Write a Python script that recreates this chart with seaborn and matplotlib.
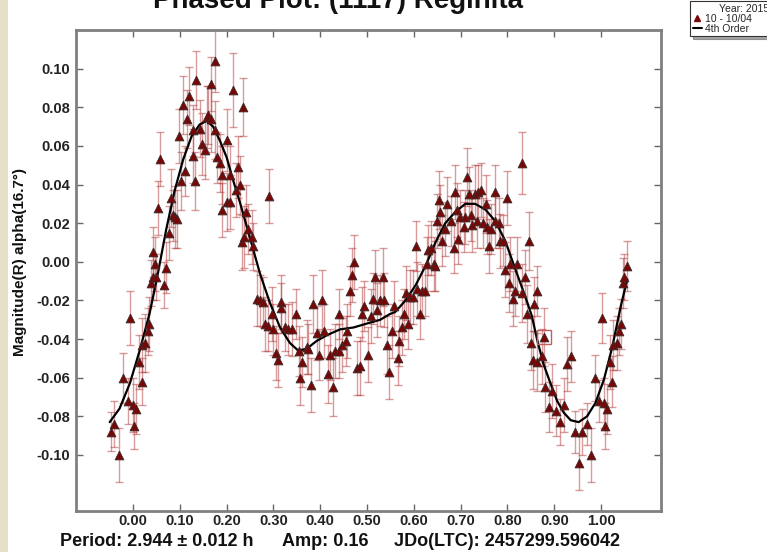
import numpy as np
import pandas as pd
import matplotlib
matplotlib.use("Agg")
import matplotlib.pyplot as plt
import seaborn as sns
from matplotlib.lines import Line2D
from matplotlib.patches import Rectangle

# ---------------- data ----------------
phase = [
    -0.047, -0.040, -0.030, -0.022, -0.007, -0.011, 0.000, 0.002, 0.007, 0.012,
    0.018, 0.019, 0.026, 0.032, 0.035, 0.039, 0.042, 0.046, 0.042, 0.050,
    0.053, 0.057, 0.067, 0.071, 0.076, 0.080, 0.085, 0.089, 0.094, 0.098,
    0.103, 0.107, 0.110, 0.115, 0.119, 0.127, 0.128, 0.133, 0.135, 0.142,
    0.148, 0.153, 0.157, 0.160, 0.166, 0.167, 0.175, 0.175, 0.179, 0.185,
    0.189, 0.191, 0.200, 0.200, 0.207, 0.208, 0.214, 0.219, 0.224, 0.228,
    0.232, 0.235, 0.237, 0.242, 0.246, 0.253, 0.257, 0.291,
    0.264, 0.271, 0.278, 0.282, 0.289, 0.296, 0.299, 0.305, 0.310, 0.315,
    0.317, 0.324, 0.331, 0.339, 0.348, 0.355, 0.356, 0.360, 0.371, 0.374,
    0.380, 0.385, 0.392, 0.397, 0.403, 0.408, 0.417, 0.421, 0.428, 0.431,
    0.439, 0.441, 0.446, 0.455, 0.457, 0.464, 0.467, 0.472, 0.478, 0.485,
    0.489, 0.494, 0.501, 0.509, 0.512, 0.517, 0.522, 0.528, 0.534, 0.536,
    0.542, 0.546, 0.553, 0.558, 0.566, 0.568, 0.574, 0.578, 0.583, 0.588,
    0.592, 0.599, 0.604, 0.606, 0.613, 0.617, 0.623, 0.628, 0.631, 0.637,
    0.642, 0.646, 0.649, 0.654, 0.656, 0.660, 0.666, 0.671, 0.680, 0.685,
    0.687, 0.692, 0.695, 0.699, 0.706, 0.710, 0.713, 0.717, 0.723, 0.725,
    0.731, 0.735, 0.738, 0.744, 0.747, 0.753, 0.756, 0.761, 0.765, 0.773,
    0.774, 0.781, 0.785, 0.790, 0.794, 0.799, 0.803, 0.806, 0.812, 0.817,
    0.821, 0.830, 0.831, 0.838, 0.842, 0.845, 0.851, 0.854,
    0.856, 0.863, 0.863, 0.874, 0.879, 0.881, 0.888, 0.895, 0.904, 0.913,
    0.920, 0.927, 0.936, 0.944, 0.952, 0.960, 0.969, 0.978, 0.986, 0.995,
    1.001, 1.006, 1.009, 1.013, 1.018, 1.024, 1.026, 1.033, 1.038, 1.042,
    1.047, 1.050, 1.055,
]
mag = [
    -0.088, -0.084, -0.100, -0.060, -0.029, -0.072, -0.074, -0.085, -0.076, -0.052,
    -0.062, -0.043, -0.042, -0.036, -0.032, -0.011, -0.008, -0.001, 0.005, -0.008,
    0.028, 0.053, -0.012, -0.003, 0.015, 0.033, 0.024, 0.023, 0.022, 0.065,
    0.042, 0.081, 0.047, 0.074, 0.086, 0.055, 0.068, 0.042, 0.094, 0.069,
    0.061, 0.058, 0.075, 0.076, 0.074, 0.092, 0.104, 0.068, 0.054, 0.051,
    0.027, 0.045, 0.063, 0.031, 0.031, 0.045, 0.089, 0.037, 0.049, 0.040,
    0.010, 0.080, 0.013, 0.026, 0.017, 0.013, 0.008, 0.034,
    -0.019, -0.020, -0.021, -0.032, -0.033, -0.027, -0.035, -0.047, -0.051, -0.021,
    -0.024, -0.034, -0.035, -0.035, -0.027, -0.046, -0.060, -0.052, -0.044, -0.045,
    -0.064, -0.022, -0.037, -0.048, -0.020, -0.036, -0.058, -0.048, -0.065, -0.046,
    -0.046, -0.027, -0.043, -0.041, -0.036, -0.015, -0.007, 0.000, -0.055, -0.054,
    -0.027, -0.023, -0.048, -0.028, -0.019, -0.008, -0.025, -0.020, -0.008, -0.020,
    -0.043, -0.057, -0.036, -0.023, -0.050, -0.041, -0.034, -0.027, -0.016, -0.032,
    -0.018, -0.018, 0.008, -0.014, -0.027, -0.015, -0.015, -0.001, 0.006, 0.007,
    -0.001, -0.002, 0.021, 0.032, 0.026, 0.011, 0.017, 0.030, 0.021, 0.007,
    0.036, 0.027, 0.012, 0.023, 0.018, 0.023, 0.044, 0.035, 0.024, 0.019,
    0.035, 0.021, 0.036, 0.037, 0.020, 0.030, 0.018, 0.008, 0.017, 0.036,
    0.021, 0.020, 0.011, 0.011, -0.004, 0.033, -0.011, -0.001, -0.019, -0.015,
    -0.001, 0.051, -0.016, -0.008, -0.027, 0.011, -0.042, -0.051,
    -0.022, -0.015, -0.052, -0.049, -0.039, -0.065, -0.075, -0.067, -0.077, -0.083,
    -0.074, -0.053, -0.049, -0.088, -0.104, -0.088, -0.084, -0.100, -0.060, -0.072,
    -0.029, -0.073, -0.085, -0.076, -0.052, -0.062, -0.043, -0.042, -0.036, -0.032,
    -0.011, -0.008, -0.002,
]
err = [
    0.010, 0.012, 0.014, 0.013, 0.014, 0.012, 0.014, 0.012, 0.013, 0.014,
    0.012, 0.014, 0.015, 0.012, 0.014, 0.012, 0.012, 0.014, 0.013, 0.012,
    0.014, 0.014, 0.012, 0.013, 0.014, 0.015, 0.013, 0.016, 0.015, 0.014,
    0.015, 0.015, 0.013, 0.015, 0.015, 0.014, 0.013, 0.015, 0.015, 0.015,
    0.016, 0.015, 0.016, 0.015, 0.017, 0.014, 0.016, 0.015, 0.013, 0.015,
    0.014, 0.015, 0.016, 0.015, 0.014, 0.015, 0.019, 0.014, 0.016, 0.015,
    0.014, 0.015, 0.016, 0.014, 0.013, 0.014, 0.012, 0.014,
    0.014, 0.013, 0.013, 0.014, 0.013, 0.014, 0.013, 0.014, 0.014, 0.014,
    0.013, 0.012, 0.013, 0.014, 0.013, 0.013, 0.014, 0.013, 0.014, 0.013,
    0.014, 0.015, 0.014, 0.013, 0.016, 0.014, 0.015, 0.013, 0.015, 0.014,
    0.014, 0.013, 0.014, 0.013, 0.014, 0.013, 0.014, 0.014, 0.014, 0.015,
    0.014, 0.013, 0.014, 0.014, 0.013, 0.014, 0.014, 0.013, 0.015, 0.014,
    0.015, 0.014, 0.014, 0.013, 0.014, 0.013, 0.014, 0.013, 0.014, 0.013,
    0.014, 0.014, 0.013, 0.014, 0.013, 0.014, 0.013, 0.014, 0.013, 0.014,
    0.014, 0.013, 0.014, 0.015, 0.014, 0.013, 0.014, 0.014, 0.013, 0.013,
    0.014, 0.014, 0.013, 0.014, 0.013, 0.014, 0.015, 0.014, 0.013, 0.014,
    0.015, 0.014, 0.014, 0.014, 0.013, 0.015, 0.014, 0.014, 0.013, 0.014,
    0.014, 0.013, 0.014, 0.013, 0.014, 0.014, 0.015, 0.014, 0.014, 0.013,
    0.014, 0.016, 0.015, 0.014, 0.015, 0.015, 0.014, 0.015,
    0.014, 0.013, 0.015, 0.014, 0.015, 0.013, 0.013, 0.014, 0.013, 0.012,
    0.014, 0.014, 0.013, 0.011, 0.014, 0.012, 0.011, 0.014, 0.012, 0.011,
    0.013, 0.013, 0.012, 0.013, 0.014, 0.013, 0.013, 0.014, 0.012, 0.013,
    0.013, 0.012, 0.013,
]

# 4th-order Fourier fit
curve_phase = [
    -0.050, -0.029, -0.007, 0.014, 0.035, 0.053, 0.071, 0.089, 0.107, 0.125,
    0.142, 0.157, 0.171, 0.185, 0.200, 0.214, 0.228, 0.249, 0.271, 0.292,
    0.314, 0.335, 0.353, 0.371, 0.392, 0.414, 0.442, 0.471, 0.499, 0.528,
    0.549, 0.560, 0.582, 0.604, 0.625, 0.646, 0.667, 0.689, 0.710, 0.731,
    0.753, 0.774, 0.795, 0.817, 0.838, 0.852, 0.863, 0.877, 0.892, 0.906,
    0.920, 0.935, 0.952, 0.970, 0.988, 1.006, 1.024, 1.042, 1.056,
]
curve_mag = [
    -0.083, -0.076, -0.063, -0.046, -0.027, -0.006, 0.017, 0.037, 0.053, 0.065,
    0.071, 0.073, 0.070, 0.063, 0.054, 0.042, 0.031, 0.013, -0.006, -0.021,
    -0.034, -0.042, -0.046, -0.045, -0.041, -0.038, -0.035, -0.034, -0.032, -0.030,
    -0.027, -0.026, -0.020, -0.012, -0.002, 0.010, 0.020, 0.026, 0.030, 0.030,
    0.027, 0.021, 0.011, -0.004, -0.018, -0.028, -0.040, -0.053, -0.063, -0.072,
    -0.078, -0.082, -0.083, -0.080, -0.073, -0.061, -0.044, -0.023, -0.009,
]

marked_phase = [0.879]
marked_mag = [-0.039]

x_ticks = [0.0, 0.1, 0.2, 0.3, 0.4, 0.5, 0.6, 0.7, 0.8, 0.9, 1.0]
y_ticks = [-0.10, -0.08, -0.06, -0.04, -0.02, 0.00, 0.02, 0.04, 0.06, 0.08, 0.10]

title = "Phased Plot: (1117) Reginita"
ylabel = "Magnitude(R) alpha(16.7°)"
footer = ["Period: 2.944 ± 0.012 h", "Amp: 0.16", "JDo(LTC): 2457299.596042"]
legend_title = "Year: 2015"
legend_labels = ["10 - 10/04", "4th Order"]

# ---------------- figure ----------------
sns.set_style("ticks")
plt.rcParams['font.family'] = ['Liberation Sans', 'DejaVu Sans']

W, H = 767, 552
fig = plt.figure(figsize=(W / 100, H / 100), dpi=100)
fig.patch.set_facecolor("white")
fig.patches.append(Rectangle((0, 0), 8 / W, 1, transform=fig.transFigure,
                             facecolor="#e4dfc6", edgecolor="none", zorder=0))

ax = fig.add_axes([76 / W, 1 - 511 / H, (661 - 76) / W, (511 - 30) / H])
ax.set_facecolor("white")

df = pd.DataFrame({"phase": phase, "mag": mag, "err": err})
cdf = pd.DataFrame({"phase": curve_phase, "mag": curve_mag})

ax.errorbar(df["phase"], df["mag"], yerr=df["err"], fmt="none",
            ecolor="#b23a3a", alpha=0.5, elinewidth=1.0, capsize=3, capthick=1.0,
            zorder=2)
sns.lineplot(data=cdf, x="phase", y="mag", ax=ax, color="black", lw=1.6,
             sort=False, estimator=None, zorder=3)
sns.scatterplot(data=df, x="phase", y="mag", ax=ax, marker="^", s=40,
                color="#7a0505", edgecolor="#3a2a2a", linewidth=0.6, zorder=4)
ax.plot(marked_phase, marked_mag, marker="s", mfc="none", mec="#c06060",
        ms=10, mew=1.0, ls="none", zorder=5)

ax.set_xlim(-0.122, 1.128)
ax.set_ylim(-0.129, 0.120)
ax.set_xticks(x_ticks)
ax.set_xticklabels([f"{v:.2f}" for v in x_ticks])
ax.set_yticks(y_ticks)
ax.set_yticklabels([f"{v:.2f}" for v in y_ticks])
ax.set_xlabel("")
ax.set_ylabel("")
ax.tick_params(direction="in", top=True, right=True, length=5, width=1,
               color="#666666", labelsize=10.5, labelcolor="#222222")
ax.tick_params(axis="x", pad=2)
ax.tick_params(axis="y", pad=4)
for lab in ax.get_xticklabels() + ax.get_yticklabels():
    lab.set_fontweight("bold")
for sp in ax.spines.values():
    sp.set_color("#808080")
    sp.set_linewidth(2)

fig.text(20 / W, 1 - 262 / H, ylabel, rotation=90, ha="center", va="center",
         fontsize=11, fontweight="bold", color="#111111")
fig.text(338 / W, 1 - 8 / H, title, ha="center", va="baseline",
         fontsize=20, fontweight="bold", color="#111111")
fig.text(60 / W, 1 - 541 / H, footer[0], ha="left", va="center",
         fontsize=13, fontweight="bold", color="#111111")
fig.text(282 / W, 1 - 541 / H, footer[1], ha="left", va="center",
         fontsize=13, fontweight="bold", color="#111111")
fig.text(394 / W, 1 - 541 / H, footer[2], ha="left", va="center",
         fontsize=13, fontweight="bold", color="#111111")

handles = [
    Line2D([], [], marker="^", color="#7a0505", ls="none", ms=5),
    Line2D([], [], color="black", lw=1.5),
]
leg = fig.legend(handles, legend_labels, title=legend_title,
                 loc="upper left", bbox_to_anchor=(690 / W, 0, 108 / W, 1 - 1 / H),
                 mode="expand",
                 fontsize=7.5, title_fontsize=7.5, frameon=True, fancybox=False,
                 shadow=True, edgecolor="#333333", handlelength=0.9,
                 handletextpad=0.3, borderpad=0.25, labelspacing=0.0,
                 borderaxespad=0)
leg.get_frame().set_linewidth(0.8)

fig.savefig("out.png", dpi=100)
